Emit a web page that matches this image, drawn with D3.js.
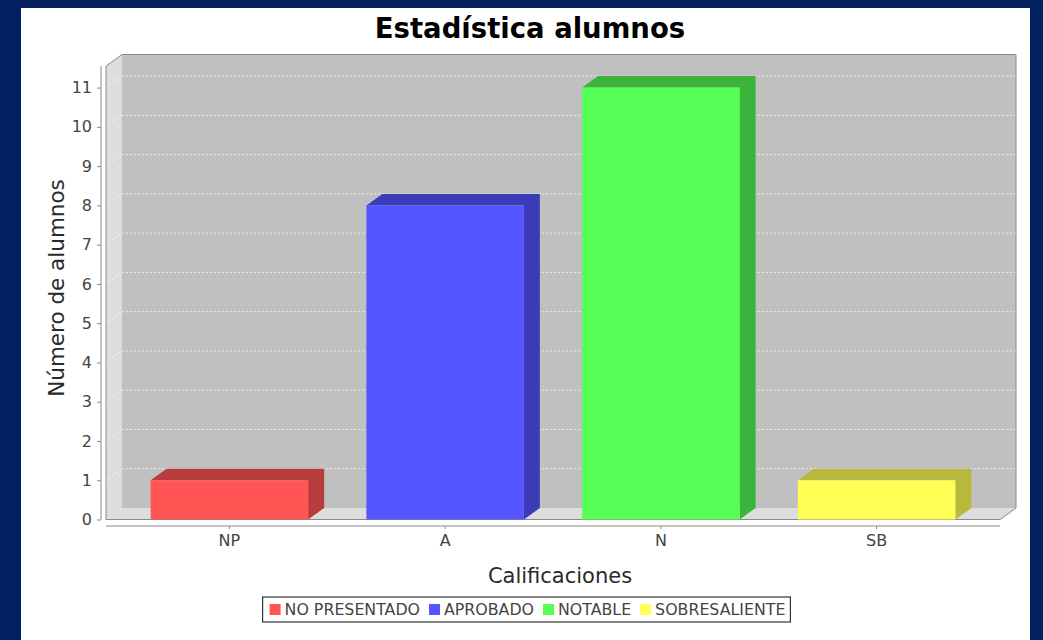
<!DOCTYPE html>
<html>
<head>
<meta charset="utf-8">
<script src="https://cdn.jsdelivr.net/npm/d3@7"></script>
<style>
    body { margin: 0; background: #021f60; }
    svg { display: block; font-family: "DejaVu Sans", sans-serif; }
</style>
</head>
<body>
<div id="chart"></div>
<script>
// chart data
const categories = ["NP", "A", "N", "SB"];
const seriesNames = ["NO PRESENTADO", "APROBADO", "NOTABLE", "SOBRESALIENTE"];
const values = [1, 8, 11, 1];
const yTicks = [0, 1, 2, 3, 4, 5, 6, 7, 8, 9, 10, 11];
const colors = ["#ff5555", "#5555ff", "#55ff55", "#ffff55"];
const darkColors = ["#b83c3c", "#3c3cb8", "#3cb43c", "#b8b83c"];

const chartW = 1043, chartH = 640;
// front data area and 3d offset
const plot = { left: 106, right: 1000, top: 66, bottom: 519.5 };
const dx = 16, dy = 11.5;

let svg = d3.select("#chart")
    .append("svg")
    .attr("width", chartW)
    .attr("height", chartH);

svg.append("rect")
    .attr("x", 0).attr("y", 0)
    .attr("width", chartW).attr("height", chartH)
    .attr("fill", "#021f60");
svg.append("rect")
    .attr("x", 21).attr("y", 8)
    .attr("width", 1009).attr("height", chartH - 8)
    .attr("fill", "#ffffff");

let x = d3.scaleBand()
    .domain(categories)
    .range([plot.left, plot.right])
    .paddingInner(0.27)
    .paddingOuter(0.207);

let y = d3.scaleLinear()
    .domain([0, 11.55])
    .range([plot.bottom, plot.top]);

let line = d3.line();

// back wall
svg.append("rect")
    .attr("x", plot.left + dx).attr("y", plot.top - dy)
    .attr("width", plot.right - plot.left).attr("height", plot.bottom - plot.top)
    .attr("fill", "#c0c0c0");

// left wall
svg.append("path")
    .attr("d", line([[plot.left, plot.bottom], [plot.left, plot.top], [plot.left + dx, plot.top - dy], [plot.left + dx, plot.bottom - dy]]) + "Z")
    .attr("fill", "#dddddd");

// floor
svg.append("path")
    .attr("d", line([[plot.left, plot.bottom], [plot.left + dx, plot.bottom - dy], [plot.right + dx, plot.bottom - dy], [plot.right, plot.bottom]]) + "Z")
    .attr("fill", "#dddddd");

// gridlines
svg.append("g")
    .selectAll("path")
    .data(yTicks.slice(1))
    .enter()
    .append("path")
    .attr("d", function(d) {
        return line([[plot.left, y(d)], [plot.left + dx, y(d) - dy], [plot.right + dx, y(d) - dy]]);
    })
    .attr("fill", "none")
    .attr("stroke", "#ffffff")
    .attr("stroke-width", 1)
    .attr("stroke-dasharray", "2,2")
    .attr("opacity", 0.75);

// plot outline
svg.append("path")
    .attr("d", line([[plot.left, plot.bottom], [plot.left, plot.top], [plot.left + dx, plot.top - dy], [plot.right + dx, plot.top - dy],
        [plot.right + dx, plot.bottom - dy], [plot.right, plot.bottom]]) + "Z")
    .attr("fill", "none")
    .attr("stroke", "#8a8a8a")
    .attr("stroke-width", 1);

// bars
let bars = svg.append("g")
    .selectAll("g")
    .data(categories)
    .enter()
    .append("g");

bars.append("path")
    .attr("d", function(d, i) {
        let x0 = x(d), x1 = x(d) + x.bandwidth(), yt = y(values[i]), yb = y(0);
        return line([[x0, yt], [x0 + dx, yt - dy], [x1 + dx, yt - dy], [x1 + dx, yb - dy], [x1, yb], [x1, yt]]) + "Z";
    })
    .attr("fill", function(d, i) { return darkColors[i]; });

bars.append("rect")
    .attr("x", function(d) { return x(d); })
    .attr("y", function(d, i) { return y(values[i]); })
    .attr("width", x.bandwidth())
    .attr("height", function(d, i) { return y(0) - y(values[i]); })
    .attr("fill", function(d, i) { return colors[i]; });

// y axis
let yAxis = svg.append("g")
    .attr("transform", "translate(101,0)")
    .call(d3.axisLeft(y).tickValues(yTicks).tickSize(4).tickPadding(5));
yAxis.select(".domain").attr("stroke", "#888").attr("d", "M0," + plot.top + "V" + plot.bottom);
yAxis.selectAll(".tick line").attr("stroke", "#888");
yAxis.selectAll("text")
    .attr("font-size", 16)
    .attr("fill", "#444")
    .attr("font-family", "DejaVu Sans");

// x axis
let xAxis = svg.append("g")
    .attr("transform", "translate(0,526)")
    .call(d3.axisBottom(x).tickSize(3).tickPadding(6));
xAxis.select(".domain").attr("stroke", "#888").attr("d", "M" + plot.left + ",0H" + plot.right);
xAxis.selectAll(".tick line").attr("stroke", "#888");
xAxis.selectAll("text")
    .attr("font-size", 16)
    .attr("fill", "#444")
    .attr("font-family", "DejaVu Sans");

// titles
svg.append("text")
    .attr("x", 530).attr("y", 38)
    .attr("text-anchor", "middle")
    .attr("font-size", 27.5)
    .attr("font-weight", "bold")
    .attr("fill", "#000")
    .text("Estadística alumnos");

svg.append("text")
    .attr("transform", "translate(64,288) rotate(-90)")
    .attr("text-anchor", "middle")
    .attr("font-size", 21.5)
    .attr("fill", "#2a2a2a")
    .text("Número de alumnos");

svg.append("text")
    .attr("x", 560).attr("y", 583)
    .attr("text-anchor", "middle")
    .attr("font-size", 21)
    .attr("fill", "#2a2a2a")
    .text("Calificaciones");

// legend
let legend = svg.append("g");
let legendBox = legend.append("rect")
    .attr("fill", "#fff")
    .attr("stroke", "#333")
    .attr("stroke-width", 1.2);
let cursor = 0;
seriesNames.forEach(function(name, i) {
    legend.append("rect")
        .attr("x", cursor).attr("y", -5.5)
        .attr("width", 11).attr("height", 11)
        .attr("fill", colors[i]);
    let t = legend.append("text")
        .attr("x", cursor + 15).attr("y", 5.5)
        .attr("font-size", 15.8)
        .attr("fill", "#444")
        .text(name);
    cursor += 15 + t.node().getComputedTextLength() + 9;
});
cursor -= 9;
let legendX = 527.5 - cursor / 2;
legend.attr("transform", "translate(" + legendX + ",609.5)");
legendBox.attr("x", -7).attr("y", -12.5).attr("width", cursor + 12).attr("height", 25);
</script>
</body>
</html>
